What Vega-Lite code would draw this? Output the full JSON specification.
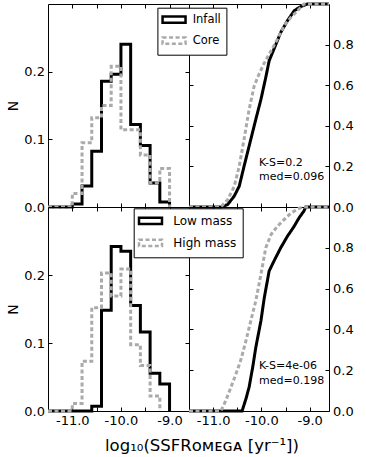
{
  "$schema": "https://vega.github.io/schema/vega-lite/v6.json",
  "background": "white",
  "padding": {"left": 6, "top": -3, "right": 5, "bottom": 5},
  "config": {
    "font": "DejaVu Sans",
    "view": {"stroke": "black", "strokeWidth": 1},
    "axis": {"grid": false, "domain": false, "tickColor": "black", "tickSize": -4, "tickWidth": 1, "labelPadding": 7.5, "labelFont": "DejaVu Sans", "labelFontSize": 13, "labelColor": "black", "titleFont": "DejaVu Sans", "titleFontWeight": "normal", "titleColor": "black", "titleFontSize": 14},
    "legend": {"labelFont": "DejaVu Sans", "labelColor": "black"},
    "text": {"font": "DejaVu Sans"}
  },
  "title": {"text": "log₁₀(SSFRᴏᴍᴇɢᴀ [yr⁻¹])", "orient": "bottom", "anchor": "middle", "frame": "bounds", "fontSize": 16.5, "font": "DejaVu Sans", "fontWeight": "normal", "color": "black", "offset": 10, "dx": 22},
  "datasets": {
    "hist_top": [
      {"x": -11.5, "N": 0, "g": "Infall"}, {"x": -11.0, "N": 0.0044, "g": "Infall"}, {"x": -10.8, "N": 0.031, "g": "Infall"}, {"x": -10.6, "N": 0.0825, "g": "Infall"}, {"x": -10.4, "N": 0.186, "g": "Infall"}, {"x": -10.2, "N": 0.196, "g": "Infall"}, {"x": -10.0, "N": 0.2405, "g": "Infall"}, {"x": -9.8, "N": 0.122, "g": "Infall"}, {"x": -9.6, "N": 0.091, "g": "Infall"}, {"x": -9.4, "N": 0.0356, "g": "Infall"}, {"x": -9.2, "N": 0.0074, "g": "Infall"}, {"x": -9.0, "N": 0, "g": "Infall"},
      {"x": -11.5, "N": 0, "g": "Core"}, {"x": -11.0, "N": 0.02, "g": "Core"}, {"x": -10.8, "N": 0.095, "g": "Core"}, {"x": -10.6, "N": 0.132, "g": "Core"}, {"x": -10.4, "N": 0.15, "g": "Core"}, {"x": -10.2, "N": 0.208, "g": "Core"}, {"x": -10.0, "N": 0.114, "g": "Core"}, {"x": -9.8, "N": 0.114, "g": "Core"}, {"x": -9.6, "N": 0.077, "g": "Core"}, {"x": -9.4, "N": 0.036, "g": "Core"}, {"x": -9.2, "N": 0.057, "g": "Core"}, {"x": -9.0, "N": 0, "g": "Core"}
    ],
    "hist_bot": [
      {"x": -11.5, "N": 0, "g": "Low mass"}, {"x": -10.6, "N": 0.007, "g": "Low mass"}, {"x": -10.4, "N": 0.148, "g": "Low mass"}, {"x": -10.2, "N": 0.242, "g": "Low mass"}, {"x": -10.0, "N": 0.235, "g": "Low mass"}, {"x": -9.8, "N": 0.155, "g": "Low mass"}, {"x": -9.6, "N": 0.116, "g": "Low mass"}, {"x": -9.4, "N": 0.0554, "g": "Low mass"}, {"x": -9.2, "N": 0.0396, "g": "Low mass"}, {"x": -9.0, "N": 0, "g": "Low mass"},
      {"x": -11.5, "N": 0, "g": "High mass"}, {"x": -11.0, "N": 0.011, "g": "High mass"}, {"x": -10.8, "N": 0.073, "g": "High mass"}, {"x": -10.6, "N": 0.152, "g": "High mass"}, {"x": -10.4, "N": 0.203, "g": "High mass"}, {"x": -10.2, "N": 0.169, "g": "High mass"}, {"x": -10.0, "N": 0.209, "g": "High mass"}, {"x": -9.8, "N": 0.0975, "g": "High mass"}, {"x": -9.6, "N": 0.067, "g": "High mass"}, {"x": -9.4, "N": 0.022, "g": "High mass"}, {"x": -9.2, "N": 0, "g": "High mass"}
    ],
    "cdf_top": [
      {"x": -11.5, "F": 0, "g": "Infall"}, {"x": -10.84, "F": 0, "g": "Infall"}, {"x": -10.7, "F": 0.012, "g": "Infall"}, {"x": -10.565, "F": 0.053, "g": "Infall"}, {"x": -10.46, "F": 0.102, "g": "Infall"}, {"x": -10.36, "F": 0.2, "g": "Infall"}, {"x": -10.22, "F": 0.333, "g": "Infall"}, {"x": -10.116, "F": 0.432, "g": "Infall"}, {"x": -10.01, "F": 0.53, "g": "Infall"}, {"x": -9.91, "F": 0.638, "g": "Infall"}, {"x": -9.84, "F": 0.72, "g": "Infall"}, {"x": -9.74, "F": 0.778, "g": "Infall"}, {"x": -9.6, "F": 0.86, "g": "Infall"}, {"x": -9.46, "F": 0.918, "g": "Infall"}, {"x": -9.32, "F": 0.967, "g": "Infall"}, {"x": -9.18, "F": 0.988, "g": "Infall"}, {"x": -9.05, "F": 1.0, "g": "Infall"}, {"x": -8.6, "F": 1.0, "g": "Infall"},
      {"x": -11.5, "F": 0, "g": "Core"}, {"x": -10.84, "F": 0, "g": "Core"}, {"x": -10.7, "F": 0.036, "g": "Core"}, {"x": -10.565, "F": 0.1, "g": "Core"}, {"x": -10.46, "F": 0.2, "g": "Core"}, {"x": -10.36, "F": 0.333, "g": "Core"}, {"x": -10.255, "F": 0.48, "g": "Core"}, {"x": -10.15, "F": 0.596, "g": "Core"}, {"x": -10.05, "F": 0.654, "g": "Core"}, {"x": -9.94, "F": 0.71, "g": "Core"}, {"x": -9.8, "F": 0.77, "g": "Core"}, {"x": -9.667, "F": 0.827, "g": "Core"}, {"x": -9.53, "F": 0.893, "g": "Core"}, {"x": -9.39, "F": 0.934, "g": "Core"}, {"x": -9.25, "F": 0.967, "g": "Core"}, {"x": -9.12, "F": 1.0, "g": "Core"}, {"x": -8.6, "F": 1.0, "g": "Core"}
    ],
    "cdf_bot": [
      {"x": -11.5, "F": 0, "g": "Low mass"}, {"x": -10.4, "F": 0, "g": "Low mass"}, {"x": -10.32, "F": 0.06, "g": "Low mass"}, {"x": -10.255, "F": 0.117, "g": "Low mass"}, {"x": -10.18, "F": 0.215, "g": "Low mass"}, {"x": -10.116, "F": 0.312, "g": "Low mass"}, {"x": -10.01, "F": 0.442, "g": "Low mass"}, {"x": -9.94, "F": 0.556, "g": "Low mass"}, {"x": -9.84, "F": 0.686, "g": "Low mass"}, {"x": -9.74, "F": 0.735, "g": "Low mass"}, {"x": -9.6, "F": 0.8, "g": "Low mass"}, {"x": -9.46, "F": 0.857, "g": "Low mass"}, {"x": -9.32, "F": 0.906, "g": "Low mass"}, {"x": -9.22, "F": 0.947, "g": "Low mass"}, {"x": -9.12, "F": 0.98, "g": "Low mass"}, {"x": -9.08, "F": 1.0, "g": "Low mass"}, {"x": -8.6, "F": 1.0, "g": "Low mass"},
      {"x": -11.5, "F": 0, "g": "High mass"}, {"x": -10.84, "F": 0, "g": "High mass"}, {"x": -10.74, "F": 0.05, "g": "High mass"}, {"x": -10.63, "F": 0.117, "g": "High mass"}, {"x": -10.53, "F": 0.18, "g": "High mass"}, {"x": -10.43, "F": 0.247, "g": "High mass"}, {"x": -10.32, "F": 0.345, "g": "High mass"}, {"x": -10.22, "F": 0.442, "g": "High mass"}, {"x": -10.116, "F": 0.54, "g": "High mass"}, {"x": -10.01, "F": 0.67, "g": "High mass"}, {"x": -9.91, "F": 0.8, "g": "High mass"}, {"x": -9.8, "F": 0.865, "g": "High mass"}, {"x": -9.667, "F": 0.906, "g": "High mass"}, {"x": -9.53, "F": 0.938, "g": "High mass"}, {"x": -9.39, "F": 0.97, "g": "High mass"}, {"x": -9.25, "F": 0.99, "g": "High mass"}, {"x": -9.15, "F": 1.0, "g": "High mass"}, {"x": -8.6, "F": 1.0, "g": "High mass"}
    ],
    "notes_top": [{"x": -10.05, "y": 0.217, "t": "K-S=0.2"}, {"x": -10.05, "y": 0.148, "t": "med=0.096"}],
    "notes_bot": [{"x": -10.05, "y": 0.222, "t": "K-S=4e-06"}, {"x": -10.05, "y": 0.148, "t": "med=0.198"}]
  },
  "columns": 2,
  "spacing": 0,
  "bounds": "flush",
  "resolve": {"scale": {"x": "independent", "y": "independent", "color": "independent", "strokeDash": "independent"}},
  "concat": [
    {
      "width": 141, "height": 203,
      "data": {"name": "hist_top"},
      "resolve": {"axis": {"x": "independent", "y": "independent"}},
      "encoding": {
        "x": {"field": "x", "type": "quantitative", "scale": {"domain": [-11.5, -8.6], "nice": false, "zero": false}, "axis": {"values": [-11, -10.5, -10, -9.5, -9], "labels": false, "title": null}},
        "y": {"field": "N", "type": "quantitative", "scale": {"domain": [0, 0.3], "nice": false}, "axis": {"values": [0, 0.1, 0.2], "format": ".1f", "title": "N", "titlePadding": 3}},
        "color": {"field": "g", "type": "nominal", "scale": {"domain": ["Infall", "Core"], "range": ["#000000", "#aaaaaa"]}, "legend": null},
        "strokeDash": {"field": "g", "type": "nominal", "scale": {"domain": ["Infall", "Core"], "range": [[1, 0], [4, 2.5]]}, "legend": null}
      },
      "layer": [
        {"transform": [{"filter": "datum.g === 'Infall'"}], "mark": {"type": "line", "interpolate": "step-after", "strokeWidth": 3}},
        {"transform": [{"filter": "datum.g === 'Core'"}], "mark": {"type": "line", "interpolate": "step-after", "strokeWidth": 3},
          "encoding": {
            "x": {"field": "x", "type": "quantitative", "scale": {"domain": [-11.5, -8.6], "nice": false, "zero": false}, "axis": {"orient": "top", "values": [-11, -10.5, -10, -9.5, -9], "labels": false, "title": null}},
            "y": {"field": "N", "type": "quantitative", "scale": {"domain": [0, 0.3], "nice": false}, "axis": {"orient": "right", "values": [0, 0.1, 0.2], "labels": false, "title": null}}
          }
        }
      ]
    },
    {
      "width": 140, "height": 203,
      "resolve": {"axis": {"x": "independent", "y": "independent"}},
      "layer": [
        {
          "data": {"name": "cdf_top"},
          "transform": [{"filter": "datum.g === 'Infall'"}],
          "mark": {"type": "line", "strokeWidth": 3},
          "encoding": {
            "x": {"field": "x", "type": "quantitative", "scale": {"domain": [-11.5, -8.6], "nice": false, "zero": false}, "axis": {"values": [-11, -10.5, -10, -9.5, -9], "labels": false, "title": null}},
            "y": {"field": "F", "type": "quantitative", "scale": {"domain": [0, 1], "nice": false}, "axis": {"orient": "right", "values": [0, 0.2, 0.4, 0.6, 0.8], "format": ".1f", "title": null}},
            "color": {"field": "g", "type": "nominal", "scale": {"domain": ["Infall", "Core"], "range": ["#000000", "#aaaaaa"]}, "legend": {"title": null, "orient": "none", "legendX": -31.6, "legendY": 3.7, "strokeColor": "black", "fillColor": "white", "padding": 5, "symbolType": "M-2,-0.55H2V0.55H-2Z", "symbolSize": 132, "symbolOffset": 4.65, "symbolStrokeWidth": 2.5, "labelFontSize": 11.5, "rowPadding": 3, "labelOffset": 11.6}},
            "strokeDash": {"field": "g", "type": "nominal", "scale": {"domain": ["Infall", "Core"], "range": [[1, 0], [4, 2.5]]}, "legend": {"title": null, "orient": "none", "legendX": -31.6, "legendY": 3.7, "strokeColor": "black", "fillColor": "white", "padding": 5, "symbolType": "M-2,-0.55H2V0.55H-2Z", "symbolSize": 132, "symbolOffset": 4.65, "symbolStrokeWidth": 2.5, "labelFontSize": 11.5, "rowPadding": 3, "labelOffset": 11.6}}
          }
        },
        {
          "data": {"name": "cdf_top"},
          "transform": [{"filter": "datum.g === 'Core'"}],
          "mark": {"type": "line", "strokeWidth": 3},
          "encoding": {
            "x": {"field": "x", "type": "quantitative", "scale": {"domain": [-11.5, -8.6], "nice": false, "zero": false}, "axis": {"orient": "top", "values": [-11, -10.5, -10, -9.5, -9], "labels": false, "title": null}},
            "y": {"field": "F", "type": "quantitative", "scale": {"domain": [0, 1], "nice": false}, "axis": {"orient": "left", "values": [0, 0.2, 0.4, 0.6, 0.8], "labels": false, "title": null}},
            "color": {"field": "g", "type": "nominal"},
            "strokeDash": {"field": "g", "type": "nominal"}
          }
        },
        {
          "data": {"name": "notes_top"},
          "mark": {"type": "text", "align": "left", "baseline": "middle", "fontSize": 11, "color": "black"},
          "encoding": {
            "x": {"field": "x", "type": "quantitative", "axis": null},
            "y": {"field": "y", "type": "quantitative", "axis": null},
            "text": {"field": "t"}
          }
        }
      ]
    },
    {
      "width": 141, "height": 204,
      "data": {"name": "hist_bot"},
      "resolve": {"axis": {"x": "independent", "y": "independent"}},
      "encoding": {
        "x": {"field": "x", "type": "quantitative", "scale": {"domain": [-11.5, -8.6], "nice": false, "zero": false}, "axis": {"values": [-11, -10.5, -10, -9.5, -9], "labelExpr": "datum.value == -11 ? '-11.0' : datum.value == -10 ? '-10.0' : datum.value == -9 ? '-9.0' : ''", "title": null}},
        "y": {"field": "N", "type": "quantitative", "scale": {"domain": [0, 0.3], "nice": false}, "axis": {"values": [0, 0.1, 0.2], "format": ".1f", "title": "N", "titlePadding": 3}},
        "color": {"field": "g", "type": "nominal", "scale": {"domain": ["Low mass", "High mass"], "range": ["#000000", "#aaaaaa"]}, "legend": null},
        "strokeDash": {"field": "g", "type": "nominal", "scale": {"domain": ["Low mass", "High mass"], "range": [[1, 0], [4, 2.5]]}, "legend": null}
      },
      "layer": [
        {"transform": [{"filter": "datum.g === 'Low mass'"}], "mark": {"type": "line", "interpolate": "step-after", "strokeWidth": 3}},
        {"transform": [{"filter": "datum.g === 'High mass'"}], "mark": {"type": "line", "interpolate": "step-after", "strokeWidth": 3},
          "encoding": {
            "x": {"field": "x", "type": "quantitative", "scale": {"domain": [-11.5, -8.6], "nice": false, "zero": false}, "axis": {"orient": "top", "values": [-11, -10.5, -10, -9.5, -9], "labels": false, "title": null}},
            "y": {"field": "N", "type": "quantitative", "scale": {"domain": [0, 0.3], "nice": false}, "axis": {"orient": "right", "values": [0, 0.1, 0.2], "labels": false, "title": null}}
          }
        }
      ]
    },
    {
      "width": 140, "height": 204,
      "resolve": {"axis": {"x": "independent", "y": "independent"}},
      "layer": [
        {
          "data": {"name": "cdf_bot"},
          "transform": [{"filter": "datum.g === 'Low mass'"}],
          "mark": {"type": "line", "strokeWidth": 3},
          "encoding": {
            "x": {"field": "x", "type": "quantitative", "scale": {"domain": [-11.5, -8.6], "nice": false, "zero": false}, "axis": {"values": [-11, -10.5, -10, -9.5, -9], "labelExpr": "datum.value == -11 ? '-11.0' : datum.value == -10 ? '-10.0' : datum.value == -9 ? '-9.0' : ''", "title": null}},
            "y": {"field": "F", "type": "quantitative", "scale": {"domain": [0, 1], "nice": false}, "axis": {"orient": "right", "values": [0, 0.2, 0.4, 0.6, 0.8], "format": ".1f", "title": null}},
            "color": {"field": "g", "type": "nominal", "scale": {"domain": ["Low mass", "High mass"], "range": ["#000000", "#aaaaaa"]}, "legend": {"title": null, "orient": "none", "legendX": -55.3, "legendY": 1.3, "strokeColor": "black", "fillColor": "white", "padding": 5.5, "symbolType": "M-2,-0.55H2V0.55H-2Z", "symbolSize": 132, "symbolOffset": 4.3, "symbolStrokeWidth": 2.5, "labelFontSize": 12, "rowPadding": 4, "labelOffset": 15.8}},
            "strokeDash": {"field": "g", "type": "nominal", "scale": {"domain": ["Low mass", "High mass"], "range": [[1, 0], [4, 2.5]]}, "legend": {"title": null, "orient": "none", "legendX": -55.3, "legendY": 1.3, "strokeColor": "black", "fillColor": "white", "padding": 5.5, "symbolType": "M-2,-0.55H2V0.55H-2Z", "symbolSize": 132, "symbolOffset": 4.3, "symbolStrokeWidth": 2.5, "labelFontSize": 12, "rowPadding": 4, "labelOffset": 15.8}}
          }
        },
        {
          "data": {"name": "cdf_bot"},
          "transform": [{"filter": "datum.g === 'High mass'"}],
          "mark": {"type": "line", "strokeWidth": 3},
          "encoding": {
            "x": {"field": "x", "type": "quantitative", "scale": {"domain": [-11.5, -8.6], "nice": false, "zero": false}, "axis": {"orient": "top", "values": [-11, -10.5, -10, -9.5, -9], "labels": false, "title": null}},
            "y": {"field": "F", "type": "quantitative", "scale": {"domain": [0, 1], "nice": false}, "axis": {"orient": "left", "values": [0, 0.2, 0.4, 0.6, 0.8], "labels": false, "title": null}},
            "color": {"field": "g", "type": "nominal"},
            "strokeDash": {"field": "g", "type": "nominal"}
          }
        },
        {
          "data": {"name": "notes_bot"},
          "mark": {"type": "text", "align": "left", "baseline": "middle", "fontSize": 11, "color": "black"},
          "encoding": {
            "x": {"field": "x", "type": "quantitative", "axis": null},
            "y": {"field": "y", "type": "quantitative", "axis": null},
            "text": {"field": "t"}
          }
        }
      ]
    }
  ]
}
